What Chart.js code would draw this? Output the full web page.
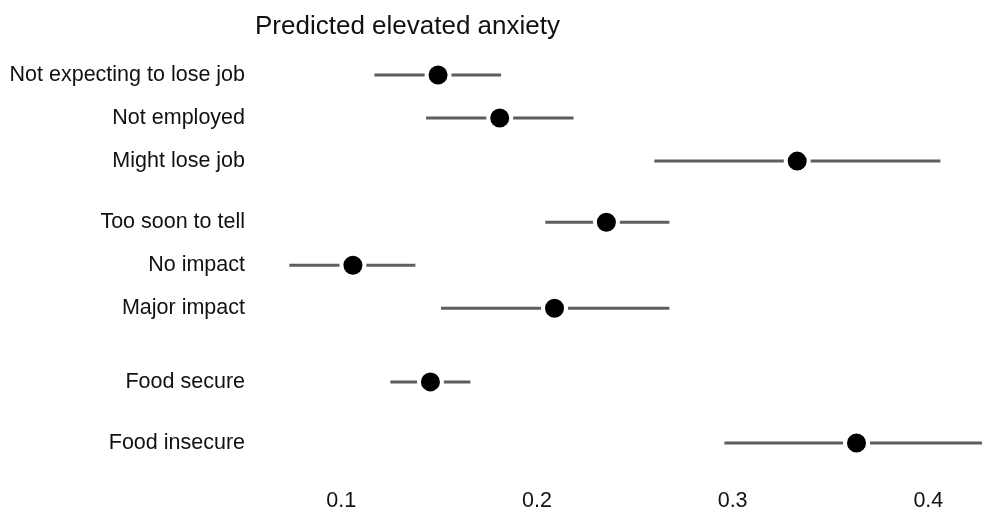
<!DOCTYPE html>
<html>
<head>
<meta charset="utf-8">
<script src="https://cdn.jsdelivr.net/npm/chart.js@4.4.1/dist/chart.umd.min.js"></script>
<style>
  body{ margin:0; background:#fff; }
  canvas{ display:block; }
</style>
</head>
<body>
<canvas id="forest" width="982" height="510"></canvas>
<script>
// ===========================
// DATA
// ===========================

const rowLabels = [
    "Not expecting to lose job",
    "Not employed",
    "Might lose job",
    "Too soon to tell",
    "No impact",
    "Major impact",
    "Food secure",
    "Food insecure"
];

// row position on the y axis (groups have bigger gaps)
const rowPos = [0, 1, 2, 3.42, 4.42, 5.42, 7.13, 8.55];

const estimate = [0.1495, 0.181, 0.333, 0.2355, 0.106, 0.209, 0.1456, 0.3633];
const lower    = [0.117, 0.1434, 0.260, 0.2043, 0.0735, 0.151, 0.1251, 0.2958];
const upper    = [0.1817, 0.2187, 0.4062, 0.2677, 0.1379, 0.2677, 0.166, 0.432];

const xTicks = [0.1, 0.2, 0.3, 0.4];

const chartTitle = "Predicted elevated anxiety";

// ===========================
// DATASETS
// ===========================

const FONT = "'Liberation Sans', Arial, sans-serif";

const dots = {
    label:'estimate',
    data: estimate.map((v,i)=>({x:v, y:rowPos[i]})),
    showLine:false,
    pointRadius:11.5,
    pointBackgroundColor:'#000',
    pointBorderColor:'#fff',
    pointBorderWidth:4,
    order:0
};

const bars = lower.map((lo,i)=>({
    label:'ci' + i,
    data:[{x:lo, y:rowPos[i]}, {x:upper[i], y:rowPos[i]}],
    showLine:true,
    borderColor:'#5e5e5e',
    borderWidth:3,
    pointRadius:0,
    clip:false,
    order:1
}));

// title drawn at the left edge of the plot
const titlePlugin = {
    id:'leftTitle',
    afterDraw(chart){
        const c = chart.ctx;
        c.save();
        c.font = "26px " + FONT;
        c.fillStyle = '#111';
        c.textBaseline = 'middle';
        c.textAlign = 'left';
        c.fillText(chartTitle, chart.chartArea.left - 3, 27);
        c.restore();
    }
};

// ===========================
// CHART
// ===========================

new Chart(document.getElementById("forest"),{

    type:'scatter',

    data:{ datasets:[dots, ...bars] },

    options:{
        responsive:false,
        animation:false,
        events:[],
        layout:{ padding:{ top:32, right:0, bottom:0, left:0 } },
        plugins:{
            legend:{ display:false },
            tooltip:{ enabled:false },
            title:{ display:false }
        },
        scales:{
            x:{
                type:'linear',
                min:0.0575,
                max:0.4195,
                grid:{ display:false, drawTicks:false },
                border:{ display:false },
                afterBuildTicks(axis){
                    axis.ticks = xTicks.map(v=>({value:v}));
                },
                afterFit(axis){
                    axis.height = 28;
                },
                ticks:{
                    padding:6,
                    color:'#111',
                    font:{ family:FONT, size:21.5 },
                    callback:(v)=>v.toFixed(1)
                }
            },
            y:{
                type:'linear',
                reverse:true,
                min:-1,
                max:9.456,
                grid:{ display:false, drawTicks:false },
                border:{ display:false },
                afterBuildTicks(axis){
                    axis.ticks = rowPos.map(v=>({value:v}));
                },
                afterFit(axis){
                    axis.width = 258;
                },
                ticks:{
                    padding:13,
                    color:'#111',
                    font:{ family:FONT, size:21.5 },
                    callback:(v)=>{
                        const i = rowPos.indexOf(v);
                        return i >= 0 ? rowLabels[i] : '';
                    }
                }
            }
        }
    },

    plugins:[titlePlugin]
});
</script>
</body>
</html>
